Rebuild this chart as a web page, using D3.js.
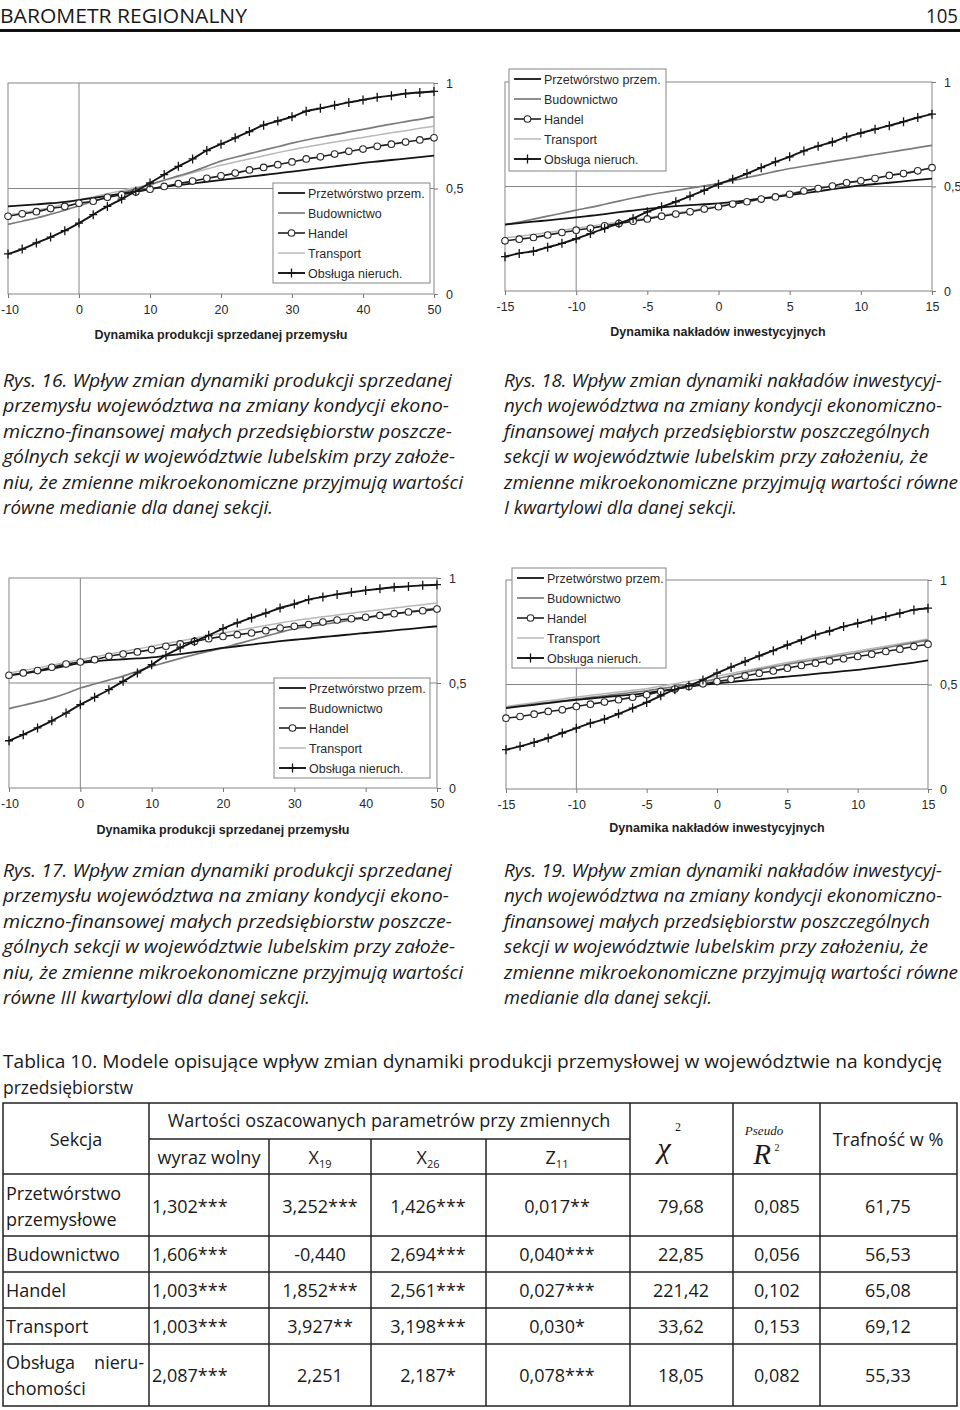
<!DOCTYPE html>
<html lang="pl">
<head>
<meta charset="UTF-8">
<title>Barometr Regionalny 105</title>
<style>
  body { margin: 0; background: #fff; }
  svg { display: block; }
</style>
</head>
<body>
<svg id="page"></svg>
<script src="https://cdn.jsdelivr.net/npm/d3@7"></script>
<script>
// ---- data ----
var xsProd = [-10,-8,-6,-4,-2,0,2,4,6,8,10,12,14,16,18,20,22,24,26,28,30,32,34,36,38,40,42,44,46,48,50];
var xsInv = [-15,-14,-13,-12,-11,-10,-9,-8,-7,-6,-5,-4,-3,-2,-1,0,1,2,3,4,5,6,7,8,9,10,11,12,13,14,15];
var ticksProd = [-10,0,10,20,30,40,50];
var ticksInv = [-15,-10,-5,0,5,10,15];
var ticksY = [0,0.5,1];
var seriesNames = ["Przetwórstwo przem.","Budownictwo","Handel","Transport","Obsługa nieruch."];

// Rys. 16
var przet16 = [0.415,0.42,0.425,0.43,0.437,0.445,0.455,0.465,0.475,0.487,0.498,0.508,0.516,0.524,0.532,0.54,0.548,0.556,0.564,0.572,0.58,0.588,0.597,0.605,0.613,0.621,0.628,0.635,0.642,0.649,0.656];
var bud16 = [0.33,0.345,0.36,0.378,0.397,0.418,0.44,0.46,0.48,0.498,0.518,0.54,0.56,0.58,0.605,0.63,0.648,0.665,0.682,0.698,0.715,0.73,0.743,0.755,0.768,0.78,0.793,0.805,0.817,0.828,0.84];
var hand16 = [0.368,0.38,0.39,0.405,0.415,0.43,0.44,0.458,0.47,0.483,0.497,0.51,0.523,0.535,0.548,0.56,0.573,0.588,0.6,0.613,0.626,0.64,0.65,0.663,0.676,0.687,0.7,0.71,0.72,0.73,0.74];
var trans16 = [0.375,0.385,0.397,0.41,0.428,0.447,0.46,0.475,0.49,0.505,0.52,0.538,0.555,0.575,0.592,0.61,0.626,0.64,0.655,0.67,0.684,0.697,0.709,0.72,0.731,0.742,0.753,0.764,0.774,0.785,0.795];
var obs16 = [0.19,0.213,0.242,0.27,0.30,0.336,0.376,0.415,0.45,0.487,0.526,0.566,0.605,0.64,0.68,0.71,0.74,0.77,0.80,0.82,0.84,0.866,0.88,0.894,0.908,0.92,0.932,0.94,0.95,0.955,0.96];

// Rys. 18
var przet18 = [0.318,0.325,0.332,0.338,0.345,0.352,0.36,0.368,0.377,0.385,0.393,0.4,0.406,0.411,0.415,0.419,0.426,0.434,0.442,0.45,0.459,0.468,0.477,0.487,0.496,0.505,0.512,0.518,0.525,0.532,0.538];
var bud18 = [0.318,0.33,0.344,0.358,0.372,0.387,0.4,0.415,0.43,0.445,0.459,0.47,0.481,0.492,0.503,0.514,0.528,0.543,0.557,0.572,0.586,0.597,0.608,0.62,0.631,0.642,0.653,0.664,0.675,0.686,0.697];
var hand18 = [0.24,0.248,0.256,0.268,0.28,0.291,0.30,0.312,0.323,0.334,0.345,0.358,0.368,0.379,0.392,0.403,0.416,0.427,0.44,0.45,0.463,0.478,0.49,0.502,0.518,0.527,0.538,0.553,0.562,0.575,0.59];
var trans18 = [0.255,0.262,0.27,0.28,0.29,0.3,0.31,0.32,0.33,0.34,0.35,0.362,0.373,0.384,0.396,0.408,0.42,0.432,0.444,0.455,0.467,0.48,0.492,0.504,0.516,0.528,0.54,0.553,0.565,0.577,0.59];
var obs18 = [0.164,0.18,0.19,0.209,0.228,0.25,0.275,0.30,0.323,0.347,0.379,0.403,0.427,0.454,0.482,0.511,0.535,0.562,0.59,0.618,0.642,0.67,0.693,0.713,0.737,0.756,0.774,0.791,0.81,0.83,0.846];

// Rys. 17
var przet17 = [0.537,0.545,0.555,0.568,0.582,0.595,0.603,0.609,0.613,0.617,0.622,0.63,0.638,0.647,0.657,0.667,0.675,0.683,0.691,0.699,0.706,0.712,0.719,0.725,0.732,0.738,0.744,0.751,0.757,0.764,0.77];
var bud17 = [0.378,0.394,0.41,0.428,0.45,0.476,0.495,0.514,0.533,0.556,0.579,0.598,0.617,0.635,0.651,0.667,0.686,0.705,0.723,0.741,0.759,0.769,0.779,0.789,0.8,0.81,0.819,0.829,0.838,0.848,0.857];
var hand17 = [0.537,0.548,0.559,0.575,0.59,0.60,0.611,0.627,0.638,0.648,0.659,0.675,0.686,0.698,0.711,0.722,0.73,0.738,0.749,0.762,0.77,0.778,0.79,0.80,0.806,0.813,0.822,0.83,0.838,0.844,0.852];
var trans17 = [0.548,0.56,0.572,0.585,0.598,0.611,0.624,0.637,0.65,0.662,0.675,0.688,0.7,0.713,0.726,0.738,0.75,0.762,0.774,0.786,0.797,0.806,0.815,0.824,0.832,0.841,0.849,0.857,0.865,0.873,0.881];
var obs17 = [0.225,0.254,0.286,0.32,0.357,0.397,0.432,0.468,0.508,0.548,0.587,0.632,0.667,0.698,0.727,0.759,0.786,0.81,0.833,0.857,0.876,0.897,0.91,0.922,0.932,0.941,0.949,0.956,0.96,0.965,0.968];

// Rys. 19
var przet19 = [0.387,0.395,0.403,0.411,0.419,0.427,0.433,0.44,0.446,0.452,0.459,0.469,0.479,0.49,0.498,0.506,0.512,0.519,0.525,0.532,0.538,0.544,0.551,0.557,0.564,0.57,0.578,0.587,0.596,0.605,0.615];
var bud19 = [0.39,0.398,0.406,0.414,0.422,0.43,0.438,0.446,0.454,0.462,0.47,0.48,0.49,0.5,0.513,0.527,0.543,0.558,0.572,0.585,0.597,0.608,0.619,0.63,0.641,0.652,0.664,0.676,0.688,0.7,0.712];
var hand19 = [0.339,0.347,0.358,0.371,0.379,0.395,0.406,0.416,0.427,0.439,0.451,0.467,0.478,0.49,0.503,0.514,0.525,0.541,0.554,0.565,0.578,0.591,0.602,0.613,0.623,0.634,0.645,0.658,0.669,0.682,0.693];
var trans19 = [0.395,0.404,0.413,0.422,0.431,0.44,0.448,0.456,0.464,0.472,0.48,0.492,0.504,0.516,0.528,0.54,0.553,0.566,0.579,0.592,0.605,0.616,0.627,0.638,0.649,0.66,0.672,0.683,0.695,0.706,0.718];
var obs19 = [0.188,0.204,0.223,0.244,0.268,0.291,0.315,0.334,0.36,0.387,0.414,0.446,0.475,0.494,0.522,0.554,0.583,0.61,0.637,0.662,0.689,0.713,0.737,0.756,0.777,0.793,0.809,0.825,0.841,0.857,0.865];

// captions
var cap16 = ["Rys. 16. Wpływ zmian dynamiki produkcji sprzedanej",
  "przemysłu województwa na zmiany kondycji ekono-",
  "miczno-finansowej małych przedsiębiorstw poszcze-",
  "gólnych sekcji w województwie lubelskim przy założe-",
  "niu, że zmienne mikroekonomiczne przyjmują wartości",
  "równe medianie dla danej sekcji."];
var cap18 = ["Rys. 18. Wpływ zmian dynamiki nakładów inwestycyj-",
  "nych województwa na zmiany kondycji ekonomiczno-",
  "finansowej małych przedsiębiorstw poszczególnych",
  "sekcji w województwie lubelskim przy założeniu, że",
  "zmienne mikroekonomiczne przyjmują wartości równe",
  "I kwartylowi dla danej sekcji."];
var cap17 = ["Rys. 17. Wpływ zmian dynamiki produkcji sprzedanej",
  "przemysłu województwa na zmiany kondycji ekono-",
  "miczno-finansowej małych przedsiębiorstw poszcze-",
  "gólnych sekcji w województwie lubelskim przy założe-",
  "niu, że zmienne mikroekonomiczne przyjmują wartości",
  "równe III kwartylowi dla danej sekcji."];
var cap19 = ["Rys. 19. Wpływ zmian dynamiki nakładów inwestycyj-",
  "nych województwa na zmiany kondycji ekonomiczno-",
  "finansowej małych przedsiębiorstw poszczególnych",
  "sekcji w województwie lubelskim przy założeniu, że",
  "zmienne mikroekonomiczne przyjmują wartości równe",
  "medianie dla danej sekcji."];

// table
var tabTitle = ["Tablica 10. Modele opisujące wpływ zmian dynamiki produkcji przemysłowej w województwie na kondycję",
  "przedsiębiorstw"];
var sekcje = [["Przetwórstwo","przemysłowe"],["Budownictwo"],["Handel"],["Transport"],["Obsługa","nieru-","chomości"]];
var wyrazWolny = ["1,302***","1,606***","1,003***","1,003***","2,087***"];
var x19 = ["3,252***","-0,440","1,852***","3,927**","2,251"];
var x26 = ["1,426***","2,694***","2,561***","3,198***","2,187*"];
var z11 = ["0,017**","0,040***","0,027***","0,030*","0,078***"];
var chi2 = ["79,68","22,85","221,42","33,62","18,05"];
var pseudoR2 = ["0,085","0,056","0,102","0,153","0,082"];
var trafnosc = ["61,75","56,53","65,08","69,12","55,33"];

// ---- drawing ----
var svg = d3.select("#page").attr("width", 960).attr("height", 1410);
var INK = "#1a1a1a";
var SANS = "'Open Sans', 'Noto Sans', sans-serif";
var ARIAL = "'Liberation Sans', Arial, sans-serif";
var SERIF = "'Liberation Serif', 'DejaVu Serif', serif";

function text(x, y, s, o) {
  o = o || {};
  var t = svg.append("text")
    .attr("x", x).attr("y", y)
    .attr("font-family", o.family || SANS)
    .attr("font-size", o.size || 18)
    .attr("fill", o.fill || INK)
    .attr("text-anchor", o.anchor || "start")
    .text(s);
  if (o.italic) t.attr("font-style", "italic");
  if (o.weight) t.attr("font-weight", o.weight);
  if (o.len) t.attr("textLength", o.len).attr("lengthAdjust", "spacingAndGlyphs");
  return t;
}

// page header
text(0, 23, "BAROMETR REGIONALNY", {size: 20, len: 247});
text(958, 23, "105", {size: 20, anchor: "end", len: 32});
svg.append("rect").attr("x", 0).attr("y", 29).attr("width", 960).attr("height", 3).attr("fill", "#111");

// charts
var styles = [
  {stroke: "#141414", width: 1.8},
  {stroke: "#7b7b7b", width: 1.7},
  {stroke: "#202020", width: 1.6, marker: "circle"},
  {stroke: "#b8b8b8", width: 1.5},
  {stroke: "#141414", width: 1.9, marker: "plus"}
];
var drawOrder = [3, 1, 0, 2, 4];

var charts = [
  {xs: xsProd, vals: [przet16, bud16, hand16, trans16, obs16], xd: [-10, 50], xr: [8, 434], yr: [294, 83],
   gridX: 0, ticks: ticksProd, title: "Dynamika produkcji sprzedanej przemysłu", tx: 221, ty: 339,
   leg: {x: 273, y: 183, w: 157, h: 100}},
  {xs: xsInv, vals: [przet18, bud18, hand18, trans18, obs18], xd: [-15, 15], xr: [505, 932], yr: [291, 82],
   gridX: -10, ticks: ticksInv, title: "Dynamika nakładów inwestycyjnych", tx: 718, ty: 336,
   leg: {x: 509, y: 69, w: 157, h: 102}},
  {xs: xsProd, vals: [przet17, bud17, hand17, trans17, obs17], xd: [-10, 50], xr: [9, 437], yr: [788, 578],
   gridX: 0, ticks: ticksProd, title: "Dynamika produkcji sprzedanej przemysłu", tx: 223, ty: 834,
   leg: {x: 274, y: 678, w: 156, h: 100}},
  {xs: xsInv, vals: [przet19, bud19, hand19, trans19, obs19], xd: [-15, 15], xr: [506, 928], yr: [789, 580],
   gridX: -10, ticks: ticksInv, title: "Dynamika nakładów inwestycyjnych", tx: 717, ty: 832,
   leg: {x: 512, y: 568, w: 154, h: 100}}
];

function drawMarker(g, kind, cx, cy) {
  if (kind === "circle") {
    g.append("circle").attr("cx", cx).attr("cy", cy).attr("r", 3.3)
      .attr("fill", "#fff").attr("stroke", "#2a2a2a").attr("stroke-width", 1.1);
  } else if (kind === "plus") {
    g.append("path").attr("d", "M" + (cx - 4) + "," + cy + "H" + (cx + 4) + "M" + cx + "," + (cy - 4.5) + "V" + (cy + 4.5))
      .attr("stroke", "#151515").attr("stroke-width", 1.3).attr("fill", "none");
  }
}

charts.forEach(function(c) {
  var x = d3.scaleLinear().domain(c.xd).range(c.xr);
  var y = d3.scaleLinear().domain([0, 1]).range(c.yr);
  var g = svg.append("g");

  // frame and grid
  g.append("rect").attr("x", c.xr[0]).attr("y", c.yr[1])
    .attr("width", c.xr[1] - c.xr[0]).attr("height", c.yr[0] - c.yr[1])
    .attr("fill", "none").attr("stroke", "#858585").attr("stroke-width", 1);
  g.append("line").attr("x1", x(c.gridX)).attr("x2", x(c.gridX)).attr("y1", c.yr[0]).attr("y2", c.yr[1])
    .attr("stroke", "#858585");
  g.append("line").attr("x1", c.xr[0]).attr("x2", c.xr[1]).attr("y1", y(0.5)).attr("y2", y(0.5))
    .attr("stroke", "#858585");

  // axes
  var gx = g.append("g").attr("transform", "translate(0," + c.yr[0] + ")")
    .call(d3.axisBottom(x).tickValues(c.ticks).tickSize(4).tickPadding(7)
      .tickFormat(function(d) { return String(d); }));
  gx.select(".domain").remove();
  gx.attr("font-family", ARIAL).attr("font-size", 12.5);
  gx.selectAll("line").attr("stroke", "#777");
  gx.selectAll("text").attr("fill", "#2a2a2a");
  // keep the first label inside the page
  gx.selectAll(".tick text").filter(function(d) { return x(d) < 12; })
    .attr("text-anchor", "start").attr("x", function(d) { return -x(d) + 0.5; });

  var gy = g.append("g").attr("transform", "translate(" + c.xr[1] + ",0)")
    .call(d3.axisRight(y).tickValues(ticksY).tickSize(4).tickPadding(8)
      .tickFormat(function(d) { return d === 0.5 ? "0,5" : String(d); }));
  gy.select(".domain").remove();
  gy.attr("font-family", ARIAL).attr("font-size", 12.5);
  gy.selectAll("line").attr("stroke", "#777");
  gy.selectAll("text").attr("fill", "#2a2a2a");

  g.append("text").attr("x", c.tx).attr("y", c.ty).attr("text-anchor", "middle")
    .attr("font-family", ARIAL).attr("font-size", 12.5).attr("font-weight", "bold")
    .attr("fill", "#222").text(c.title);

  // series
  drawOrder.forEach(function(si) {
    var st = styles[si];
    var pts = c.xs.map(function(v, i) { return [v, c.vals[si][i]]; });
    var line = d3.line().x(function(d) { return x(d[0]); }).y(function(d) { return y(d[1]); })
      .curve(d3.curveMonotoneX);
    g.append("path").datum(pts).attr("d", line)
      .attr("fill", "none").attr("stroke", st.stroke).attr("stroke-width", st.width)
      .attr("stroke-linejoin", "round");
    if (st.marker) {
      pts.forEach(function(p) { drawMarker(g, st.marker, x(p[0]), y(p[1])); });
    }
  });

  // legend
  var L = c.leg;
  g.append("rect").attr("x", L.x).attr("y", L.y).attr("width", L.w).attr("height", L.h)
    .attr("fill", "#fff").attr("stroke", "#858585");
  seriesNames.forEach(function(name, i) {
    var ly = L.y + 10 + i * 20;
    var st = styles[i];
    g.append("line").attr("x1", L.x + 5).attr("x2", L.x + 32).attr("y1", ly).attr("y2", ly)
      .attr("stroke", st.stroke).attr("stroke-width", st.width);
    if (st.marker) drawMarker(g, st.marker, L.x + 18.5, ly);
    g.append("text").attr("x", L.x + 35).attr("y", ly + 4.5)
      .attr("font-family", ARIAL).attr("font-size", 12.5).attr("fill", "#2a2a2a").text(name);
  });
});

// captions
function caption(lines, x0, y0, ends) {
  lines.forEach(function(s, i) {
    text(x0, y0 + i * 25.4, s, {size: 18.5, italic: true, len: ends[i] - x0});
  });
}
caption(cap16, 3, 387, [452, 449, 452, 455, 463, 273]);
caption(cap18, 504, 387, [942, 942, 930, 928, 958, 737]);
caption(cap17, 3, 877, [452, 449, 452, 455, 463, 310]);
caption(cap19, 504, 877, [942, 942, 930, 928, 958, 712]);

// table title
text(3, 1068, tabTitle[0], {size: 19, len: 939});
text(3, 1094, tabTitle[1], {size: 19, len: 130});

// table grid
var cols = [3, 149, 269, 371, 486, 630, 733, 820, 957];
var rows = [1103, 1139, 1174, 1236, 1272, 1308, 1344, 1406];
var tg = svg.append("g").attr("stroke", "#222").attr("stroke-width", 1.5);
tg.append("rect").attr("x", cols[0]).attr("y", rows[0])
  .attr("width", cols[8] - cols[0]).attr("height", rows[7] - rows[0]).attr("fill", "none");
cols.slice(1, 8).forEach(function(cx, i) {
  var top = (i >= 1 && i <= 3) ? rows[1] : rows[0];
  tg.append("line").attr("x1", cx).attr("x2", cx).attr("y1", top).attr("y2", rows[7]);
});
tg.append("line").attr("x1", cols[1]).attr("x2", cols[5]).attr("y1", rows[1]).attr("y2", rows[1]);
rows.slice(2, 7).forEach(function(ry) {
  tg.append("line").attr("x1", cols[0]).attr("x2", cols[8]).attr("y1", ry).attr("y2", ry);
});

// table header
text(76, 1146, "Sekcja", {anchor: "middle"});
text(389, 1127, "Wartości oszacowanych parametrów przy zmiennych", {anchor: "middle"});
text(209, 1164, "wyraz wolny", {anchor: "middle"});
function subLabel(cx, main, sub) {
  var t = text(cx, 1164, "", {anchor: "middle"});
  t.append("tspan").text(main);
  t.append("tspan").attr("font-size", 11).attr("dy", 4).text(sub);
}
subLabel(320, "X", "19");
subLabel(428, "X", "26");
subLabel(557, "Z", "11");
text(664, 1158, "χ", {family: SERIF, size: 30, italic: true, anchor: "middle"});
text(678, 1131, "2", {family: SERIF, size: 12, anchor: "middle"});
text(764, 1135, "Pseudo", {family: SERIF, size: 13, italic: true, anchor: "middle"});
text(762, 1164, "R", {family: SERIF, size: 29, italic: true, anchor: "middle"});
text(777, 1151, "2", {family: SERIF, size: 10, anchor: "middle"});
text(888, 1146, "Trafność w %", {anchor: "middle"});

// table body
var rowMid = [1213, 1261, 1297, 1333, 1382];
sekcje.forEach(function(lab, i) {
  if (lab.length === 1) {
    text(6, rowMid[i], lab[0]);
  } else if (lab.length === 2) {
    text(6, 1200, lab[0]);
    text(6, 1226, lab[1]);
  } else {
    text(6, 1369, lab[0]);
    text(144, 1369, lab[1], {anchor: "end"});
    text(6, 1395, lab[2]);
  }
  text(152, rowMid[i], wyrazWolny[i]);
  text(320, rowMid[i], x19[i], {anchor: "middle"});
  text(428, rowMid[i], x26[i], {anchor: "middle"});
  text(557, rowMid[i], z11[i], {anchor: "middle"});
  text(681, rowMid[i], chi2[i], {anchor: "middle"});
  text(777, rowMid[i], pseudoR2[i], {anchor: "middle"});
  text(888, rowMid[i], trafnosc[i], {anchor: "middle"});
});
</script>
</body>
</html>
